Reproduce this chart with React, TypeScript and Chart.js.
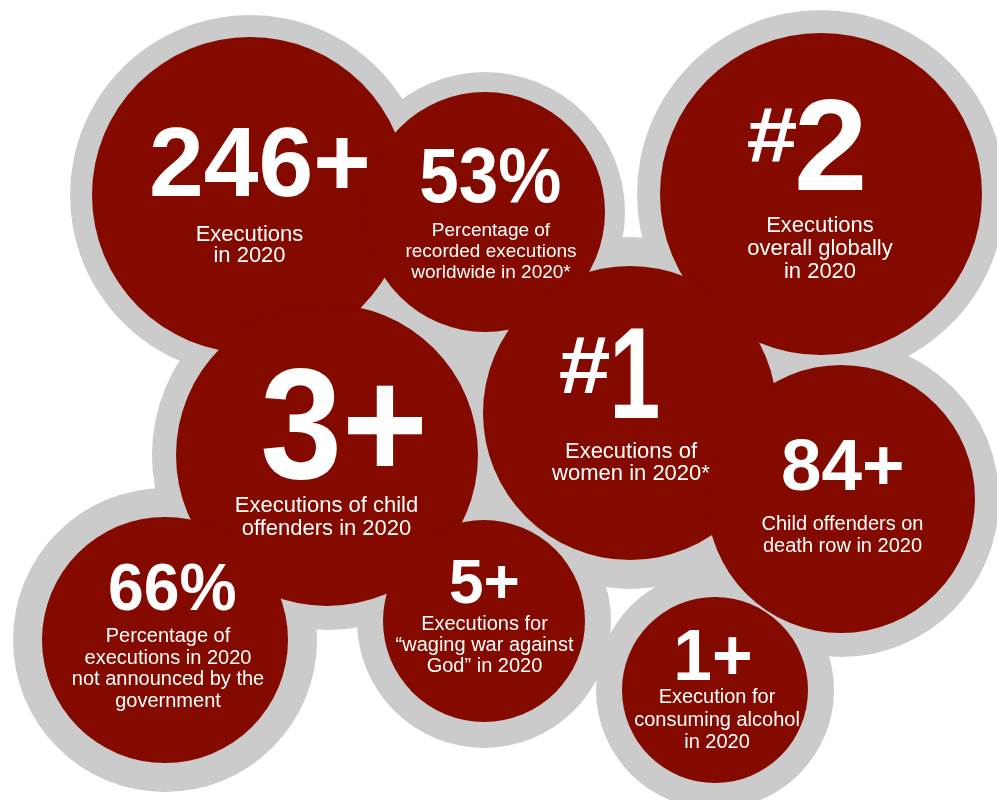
import React, { useEffect, useRef } from "react";
import { Chart, registerables } from "chart.js";

Chart.register(...registerables);

// ---- data ----
const STAT_VALUES = ["246+", "53%", "#2", "#1", "3+", "84+", "66%", "5+", "1+"];
const STAT_CAPTIONS: string[][] = [
  ["Executions", "in 2020"],
  ["Percentage of", "recorded executions", "worldwide in 2020*"],
  ["Executions", "overall globally", "in 2020"],
  ["Executions of", "women in 2020*"],
  ["Executions of child", "offenders in 2020"],
  ["Child offenders on", "death row in 2020"],
  ["Percentage of", "executions in 2020", "not announced by the", "government"],
  ["Executions for", "\u201cwaging war against", "God\u201d in 2020"],
  ["Execution for", "consuming alcohol", "in 2020"],
];
const BUBBLE_X = [250, 485, 821, 630, 327, 841, 165, 484, 715];
const BUBBLE_Y = [195, 212, 194, 413, 455, 499, 640, 621, 690];
const BUBBLE_R = [158, 120, 161, 147, 151, 134, 123, 101, 93];

// ---- style / layout ----
const RED = "#840a00";
const GRAY = "#cbcbcb";
const RING_W = [22, 20, 23, 29, 24, 24, 29, 26, 26];
const FONT = '"Liberation Sans", Arial, sans-serif';

type BigPart = { text: string; size: number; dx: number; dy: number; inkW: number; inkH?: number };
type Layout = { big: BigPart[]; capSize: number; capDx: number; capDy: number; lineH: number };

const LAYOUT: Layout[] = [
  { big: [{ text: "246+", size: 99, dx: 9.5, dy: 1, inkW: 215 }], capSize: 22, capDx: -0.5, capDy: 46, lineH: 21 },
  { big: [{ text: "53%", size: 78, dx: 5.5, dy: -10, inkW: 139 }], capSize: 19, capDx: 6, capDy: 24, lineH: 21 },
  {
    big: [
      { text: "#", size: 80, dx: -48.5, dy: -32, inkW: 49, inkH: 54 },
      { text: "2", size: 130, dx: 9.5, dy: -4, inkW: 65 },
    ],
    capSize: 22, capDx: -1, capDy: 38, lineH: 23,
  },
  {
    big: [
      { text: "#", size: 80, dx: -45, dy: -20, inkW: 50, inkH: 56 },
      { text: "1", size: 130, dx: 6.5, dy: 5, inkW: 43 },
    ],
    capSize: 22, capDx: 1, capDy: 45, lineH: 22,
  },
  { big: [{ text: "3+", size: 158, dx: 15.5, dy: 23, inkW: 159 }], capSize: 22, capDx: -0.5, capDy: 57, lineH: 23 },
  { big: [{ text: "84+", size: 73, dx: 1.5, dy: -9, inkW: 119 }], capSize: 20, capDx: 1.5, capDy: 31, lineH: 22 },
  { big: [{ text: "66%", size: 66, dx: 7.5, dy: -30, inkW: 125 }], capSize: 20, capDx: 3, capDy: 2, lineH: 21.7 },
  { big: [{ text: "5+", size: 63, dx: 0, dy: -18, inkW: 68 }], capSize: 20, capDx: 0.5, capDy: 9, lineH: 21 },
  { big: [{ text: "1+", size: 73, dx: -1.5, dy: -10, inkW: 73 }], capSize: 20, capDx: 2, capDy: 13, lineH: 22.5 },
];

const labelPlugin = {
  id: "statLabels",
  afterDatasetsDraw(chart: any) {
    const ctx: CanvasRenderingContext2D = chart.ctx;
    const meta = chart.getDatasetMeta(0);
    ctx.save();
    ctx.fillStyle = "#ffffff";
    ctx.textBaseline = "alphabetic";
    meta.data.forEach((pt: any, i: number) => {
      const lay = LAYOUT[i];
      const cx = pt.x;
      const cy = pt.y;
      const val = STAT_VALUES[i];
      const parts = val.startsWith("#") ? ["#", val.slice(1)] : [val];
      parts.forEach((txt, k) => {
        const p = lay.big[k];
        ctx.font = `bold ${p.size}px ${FONT}`;
        ctx.textAlign = "left";
        const m = ctx.measureText(txt);
        const ink = m.actualBoundingBoxLeft + m.actualBoundingBoxRight;
        const sx = p.inkW / ink;
        let sy = 1;
        if (p.inkH) sy = p.inkH / (m.actualBoundingBoxAscent + m.actualBoundingBoxDescent);
        const mid = (m.actualBoundingBoxRight - m.actualBoundingBoxLeft) / 2;
        ctx.save();
        ctx.translate(cx + p.dx, cy + p.dy);
        ctx.scale(sx, sy);
        ctx.fillText(txt, -mid, 0);
        ctx.restore();
      });
      ctx.font = `${lay.capSize}px ${FONT}`;
      ctx.textAlign = "center";
      STAT_CAPTIONS[i].forEach((line, j) => {
        ctx.fillText(line, cx + lay.capDx, cy + lay.capDy + j * lay.lineH);
      });
    });
    ctx.restore();
  },
};

export default function App() {
  const canvasRef = useRef<HTMLCanvasElement | null>(null);

  useEffect(() => {
    if (!canvasRef.current) return;
    const redPoints = BUBBLE_X.map((x, i) => ({ x, y: BUBBLE_Y[i], r: BUBBLE_R[i] }));
    const grayPoints = BUBBLE_X.map((x, i) => ({ x, y: BUBBLE_Y[i], r: BUBBLE_R[i] + RING_W[i] }));
    const chart = new Chart(canvasRef.current, {
      type: "bubble",
      data: {
        datasets: [
          {
            label: "stats",
            data: redPoints,
            backgroundColor: RED,
            borderWidth: 0,
            hoverBorderWidth: 0,
            order: 1,
            clip: false as any,
          },
          {
            label: "rings",
            data: grayPoints,
            backgroundColor: GRAY,
            borderWidth: 0,
            hoverBorderWidth: 0,
            order: 2,
            clip: false as any,
          },
        ],
      },
      options: {
        animation: false,
        responsive: true,
        maintainAspectRatio: false,
        events: [],
        layout: { padding: 0, autoPadding: false },
        plugins: { legend: { display: false }, tooltip: { enabled: false } },
        scales: {
          x: { type: "linear", min: 0, max: 997, display: false },
          y: { type: "linear", min: 0, max: 800, reverse: true, display: false },
        },
      },
      plugins: [labelPlugin],
    });
    return () => chart.destroy();
  }, []);

  return (
    <div style={{ position: "absolute", left: 0, top: 0, width: 997, height: 800, background: "#ffffff" }}>
      <canvas ref={canvasRef} />
    </div>
  );
}
